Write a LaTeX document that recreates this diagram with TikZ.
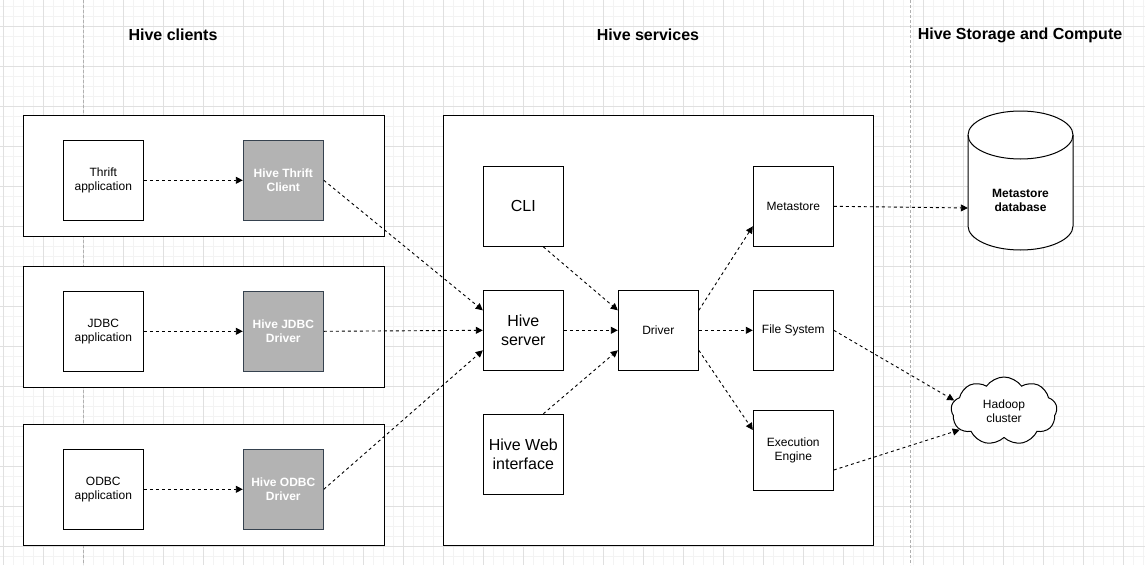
\documentclass[tikz,border=0pt]{standalone}
\usepackage{fontspec}
\setmainfont{Liberation Sans}
\usetikzlibrary{arrows.meta,shapes.symbols,calc}
\definecolor{gridfine}{HTML}{F3F3F3}
\definecolor{gridmajor}{HTML}{E0E0E0}
\definecolor{graybox}{HTML}{B3B3B3}
\definecolor{grayborder}{HTML}{36424F}
\definecolor{sepline}{HTML}{B0B0B0}
\tikzset{
  box/.style={draw=black, fill=white, line width=1pt, minimum width=80pt, minimum height=80pt, inner sep=0pt, align=center, font=\fontsize{12}{14}\selectfont},
  bigbox/.style={box, font=\fontsize{16}{19}\selectfont},
  clientbox/.style={box, fill=graybox, draw=grayborder, text=white, font=\bfseries\fontsize{12}{14}\selectfont},
  framebox/.style={draw=black, fill=white, line width=1pt, inner sep=0pt},
  titletext/.style={font=\bfseries\fontsize{16}{19}\selectfont, inner sep=0pt},
  conn/.style={draw=black, line width=0.9pt, dash pattern=on 3pt off 3pt, -{Triangle[length=7pt,width=7pt]}},
  sep/.style={draw=sepline, line width=0.8pt, dash pattern=on 3pt off 2pt},
}
\begin{document}
\begin{tikzpicture}[x=1pt,y=-1pt]
\useasboundingbox (0,0) rectangle (1145,565);
\fill[white] (0,0) rectangle (1145,565);
% grid
\foreach \i in {0,...,114} {\draw[gridfine, line width=1pt] ({3.3+10*\i},0) -- ++(0,565);}
\foreach \i in {0,...,55} {\draw[gridfine, line width=1pt] (0,{6+10*\i}) -- ++(1145,0);}
\foreach \i in {0,...,28} {\draw[gridmajor, line width=1pt] ({3.3+40*\i},0) -- ++(0,565);}
\foreach \i in {0,...,13} {\draw[gridmajor, line width=1pt] (0,{26+40*\i}) -- ++(1145,0);}
% separators
\coordinate (s1t) at (83.3,0); \coordinate (s1b) at (83.3,565);
\coordinate (s2t) at (910,0); \coordinate (s2b) at (910,565);
\draw[sep] (s1t) -- (s1b);
\draw[sep] (s2t) -- (s2b);
% titles
\node[titletext] (t1) at (173,35) {Hive clients};
\node[titletext] (t2) at (648,35) {Hive services};
\node[titletext] (t3) at (1020,35) {Hive Storage and Compute};
% frames
\node[framebox, minimum width=361pt, minimum height=121pt] (f1) at (203.5,175.5) {};
\node[framebox, minimum width=361pt, minimum height=121pt] (f2) at (203.5,326.5) {};
\node[framebox, minimum width=361pt, minimum height=121pt] (f3) at (203.5,484.8) {};
\node[framebox, minimum width=430pt, minimum height=430pt] (f4) at (658,330) {};
% clients
\node[box] (ta) at (103.3,180.3) {Thrift\\application};
\node[clientbox] (tc) at (283.3,180.3) {Hive Thrift\\Client};
\node[box] (ja) at (103.3,331.3) {JDBC\\application};
\node[clientbox] (jc) at (283.3,331.3) {Hive JDBC\\Driver};
\node[box] (oa) at (103.3,489.3) {ODBC\\application};
\node[clientbox] (oc) at (283.3,489.3) {Hive ODBC\\Driver};
% services
\node[bigbox] (cli) at (523.3,206.3) {CLI};
\node[bigbox] (hs) at (523.3,330.3) {Hive\\server};
\node[bigbox] (hw) at (523.3,454.3) {Hive Web\\interface};
\node[box] (drv) at (658.3,330.3) {Driver};
\node[box] (ms) at (793.3,206.3) {Metastore};
\node[box] (fs) at (793.3,330.3) {File System};
\node[box] (ee) at (793.3,450) {Execution\\Engine};
% storage
\draw[line width=1pt, fill=white] (968,135) -- (968,226)
  arc[start angle=180, end angle=360, x radius=52.5pt, y radius=24pt]
  -- (1073,135)
  arc[start angle=0, end angle=180, x radius=52.5pt, y radius=24pt] -- cycle;
\draw[line width=1pt] (968,135) arc[start angle=180, end angle=360, x radius=52.5pt, y radius=24pt];
\node[minimum width=105pt, minimum height=140pt, inner sep=0pt] (db) at (1020.5,180) {};
\node[align=center, inner sep=0pt, font=\bfseries\fontsize{12}{14}\selectfont] (dbt) at (1020.5,200.5) {Metastore\\database};
\node[cloud, cloud puffs=9, cloud puff arc=110, aspect=1.6, draw=black, fill=white, line width=1pt,
  minimum width=106pt, minimum height=68pt, inner sep=0pt, align=center, font=\fontsize{12}{14}\selectfont] (hc) at (1004,411) {Hadoop\\cluster};
% connectors
\draw[conn] (ta) -- (tc);
\draw[conn] (ja) -- (jc);
\draw[conn] (oa) -- (oc);
\draw[conn] (tc.east) -- ([yshift=20pt]hs.west);
\draw[conn] (jc.east) -- (hs.west);
\draw[conn] (oc.east) -- ([yshift=-20pt]hs.west);
\draw[conn] ([xshift=20pt]cli.south) -- ([yshift=20pt]drv.west);
\draw[conn] (hs.east) -- (drv.west);
\draw[conn] ([xshift=20pt]hw.north) -- ([yshift=-20pt]drv.west);
\draw[conn] ([yshift=20pt]drv.east) -- ([yshift=-20pt]ms.west);
\draw[conn] (drv.east) -- (fs.west);
\draw[conn] ([yshift=-20pt]drv.east) -- ([yshift=20pt]ee.west);
\draw[conn] (ms.east) -- ([yshift=-28pt]db.west);
\draw[conn] (fs.east) -- (hc.168);
\draw[conn] ([yshift=-20pt]ee.east) -- (hc.203);
\end{tikzpicture}
\end{document}
